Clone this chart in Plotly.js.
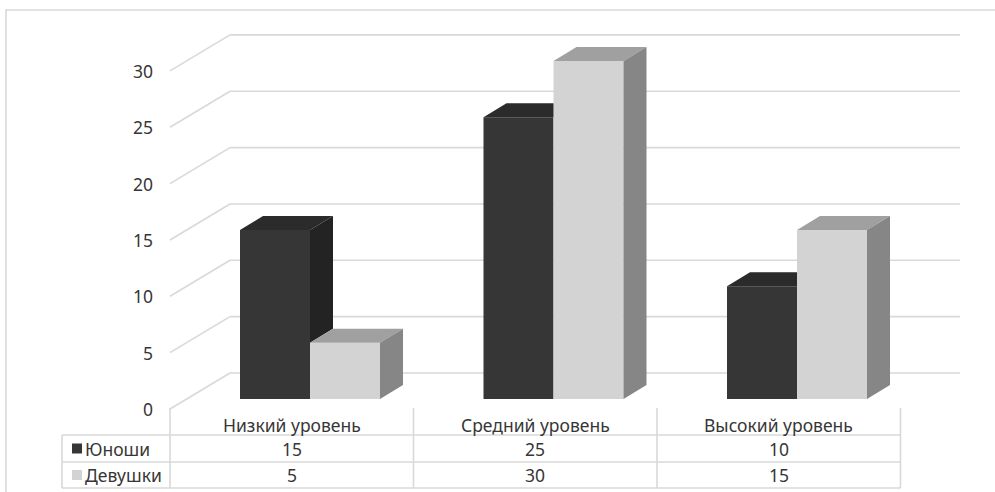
<!DOCTYPE html>
<html>
<head>
<meta charset="utf-8">
<script src="https://cdn.plot.ly/plotly-3.0.1.min.js"></script>
<style>html,body{margin:0;padding:0;background:#fff;}#chart{width:995px;height:492px;}</style>
</head>
<body>
<div id="chart"></div>
<script>
// ---- data ----
const categories = ['Низкий уровень', 'Средний уровень', 'Высокий уровень'];
const seriesNames = ['Юноши', 'Девушки'];
const boys = [15, 25, 10];
const girls = [5, 30, 15];
const yTicks = [0, 5, 10, 15, 20, 25, 30];

// ---- geometry (styles) ----
const PXX = 243.5, PXY = 11.27;           // pixels per x unit / y unit
const px = p => p / PXX, py = p => p / PXY;
const W = px(70);                          // bar width
const DDX = px(23), DDY = py(14);          // bar depth
const FX = px(170 - 310), FY = -py(10);    // front plane of the grid
const BX = px(230 - 310), BY = py(26);     // back wall
const EX = px(960 - 310);                  // right end of back wall
const GRID = '#d9d9d9';
const FONT = 'Noto Sans, sans-serif';
const TXT = '#363636';
const FS = 17.5;

const colors = {
  boys:  {front: '#363636', top: '#2b2b2b', side: '#232323'},
  girls: {front: '#d3d3d3', top: '#a0a0a0', side: '#868686'}
};
const xs = categories.map((c, i) => i);

// ---- front faces ----
const traces = [
  {type: 'bar', x: xs, y: boys, offset: -W, width: W, name: seriesNames[0],
   marker: {color: colors.boys.front, line: {width: 0}}, hoverinfo: 'skip'},
  {type: 'bar', x: xs, y: girls, offset: 0, width: W, name: seriesNames[1],
   marker: {color: colors.girls.front, line: {width: 0}}, hoverinfo: 'skip'}
];

// ---- 3D faces computed from data ----
function poly(color, xsArr, ysArr) {
  return {type: 'scatter', mode: 'lines', x: xsArr, y: ysArr, fill: 'toself',
          fillcolor: color, line: {width: 0, color: color}, hoverinfo: 'skip', showlegend: false};
}
const bSideX = [], bSideY = [], bTopX = [], bTopY = [];
const gSideX = [], gSideY = [], gTopX = [], gTopY = [];
xs.forEach((i) => {
  const b = boys[i], g = girls[i];
  const x0 = i - W, x1 = i, x2 = i + W;
  if (b > g) {
    bSideX.push(x1, x1 + DDX, x1 + DDX, x1, null);
    bSideY.push(g, g + DDY, b + DDY, b, null);
    bTopX.push(x0, x0 + DDX, x1 + DDX, x1, null);
    bTopY.push(b, b + DDY, b + DDY, b, null);
  } else {
    bTopX.push(x0, x0 + DDX, x1, x1, null);
    bTopY.push(b, b + DDY, b + DDY, b, null);
  }
  gTopX.push(x1, x1 + DDX, x2 + DDX, x2, null);
  gTopY.push(g, g + DDY, g + DDY, g, null);
  gSideX.push(x2, x2 + DDX, x2 + DDX, x2, null);
  gSideY.push(0, DDY, g + DDY, g, null);
});
traces.push(poly(colors.boys.side, bSideX, bSideY));
traces.push(poly(colors.boys.top, bTopX, bTopY));
traces.push(poly(colors.girls.top, gTopX, gTopY));
traces.push(poly(colors.girls.side, gSideX, gSideY));

// ---- gridlines ----
const shapes = [];
const line = (x0, y0, x1, y1, layer) => ({type: 'line', xref: 'x', yref: 'y', x0, y0, x1, y1,
  line: {color: GRID, width: 1.6}, layer: layer || 'below'});
yTicks.forEach(v => {
  shapes.push(line(FX, v + FY, BX, v + BY));
  shapes.push(line(BX, v + BY, EX, v + BY));
});

// ---- data table ----
const tTop = -py(408 - 399), r1 = -py(435 - 399), r2 = -py(462 - 399), r3 = -py(488 - 399);
const legL = px(62 - 310);
const colEdges = [FX, FX + 1, FX + 2, FX + 3];
colEdges.forEach(x => shapes.push(line(x, tTop, x, r3, 'above')));
shapes.push(line(legL, r1, legL, r3, 'above'));
[r1, r2, r3].forEach(y => shapes.push(line(legL, y, FX + 3, y, 'above')));
const kx0 = px(72 - 310), kx1 = px(82 - 310);
shapes.push({type: 'rect', xref: 'x', yref: 'y', x0: kx0, x1: kx1, y0: (r1 + r2) / 2 - py(5), y1: (r1 + r2) / 2 + py(5),
  fillcolor: colors.boys.front, line: {width: 0}});
shapes.push({type: 'rect', xref: 'x', yref: 'y', x0: kx0, x1: kx1, y0: (r2 + r3) / 2 - py(5), y1: (r2 + r3) / 2 + py(5),
  fillcolor: colors.girls.front, line: {width: 0}});
shapes.push({type: 'rect', xref: 'paper', yref: 'paper', x0: 6 / 995, x1: 1.02, y0: -0.02, y1: 1 - 10 / 492,
  line: {color: GRID, width: 1.6}, fillcolor: 'rgba(0,0,0,0)', layer: 'below'});

// ---- annotations ----
const annotations = [];
yTicks.forEach(v => annotations.push({xref: 'x', yref: 'y', x: px(155 - 310), y: v + FY, text: String(v),
  showarrow: false, xanchor: 'right', yanchor: 'middle', font: {family: FONT, size: FS, color: TXT}}));
categories.forEach((c, i) => {
  const cx = FX + i + 0.5;
  annotations.push({xref: 'x', yref: 'y', x: cx, y: (tTop + r1) / 2 - py(3), text: c, showarrow: false,
    font: {family: FONT, size: FS, color: TXT}});
  annotations.push({xref: 'x', yref: 'y', x: cx, y: (r1 + r2) / 2, text: String(boys[i]), showarrow: false,
    font: {family: FONT, size: FS, color: TXT}});
  annotations.push({xref: 'x', yref: 'y', x: cx, y: (r2 + r3) / 2, text: String(girls[i]), showarrow: false,
    font: {family: FONT, size: FS, color: TXT}});
});
annotations.push({xref: 'x', yref: 'y', x: px(83 - 310), y: (r1 + r2) / 2, text: seriesNames[0], showarrow: false,
  xanchor: 'left', font: {family: FONT, size: FS, color: TXT}});
annotations.push({xref: 'x', yref: 'y', x: px(83 - 310), y: (r2 + r3) / 2, text: seriesNames[1], showarrow: false,
  xanchor: 'left', font: {family: FONT, size: FS, color: TXT}});

const layout = {
  width: 995, height: 492,
  margin: {l: 0, r: 0, t: 0, b: 0},
  paper_bgcolor: '#ffffff', plot_bgcolor: 'rgba(0,0,0,0)',
  showlegend: false,
  barmode: 'overlay',
  xaxis: {type: 'linear', range: [px(-310), px(995 - 310)], visible: false, fixedrange: true},
  yaxis: {range: [-py(492 - 399), py(399)], visible: false, fixedrange: true},
  shapes, annotations
};
Plotly.newPlot('chart', traces, layout, {staticPlot: true, displayModeBar: false});
</script>
</body>
</html>
